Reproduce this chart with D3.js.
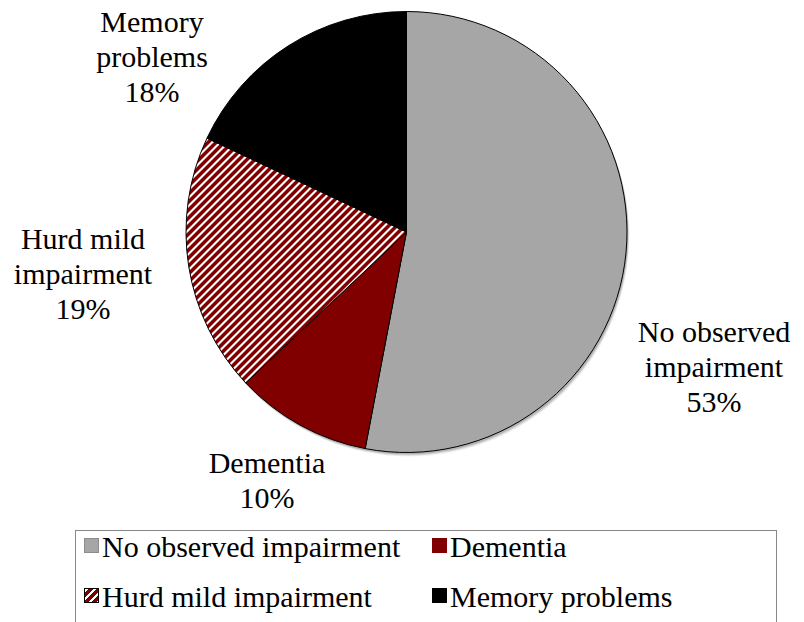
<!DOCTYPE html>
<html><head><meta charset="utf-8"><script src="https://cdn.jsdelivr.net/npm/d3@7"></script></head>
<body style="margin:0">
<svg id="s" width="804" height="622"></svg>
<script>
// Cognitive status shares (percent)
const categories = ["No observed impairment", "Dementia", "Hurd mild impairment", "Memory problems"];
const values = [53, 10, 19, 18];
const labelLines = [["No observed", "impairment"], ["Dementia"], ["Hurd mild", "impairment"], ["Memory", "problems"]];
const fills = ["#A6A6A6", "#800000", "url(#hatch)", "#000000"];

// Layout
const family = "Times New Roman";
const cx = 406.5, cy = 232, R = 220.5;
const labelSize = 30, legendSize = 30, lineH = 35;
// anchor (centre x, first baseline y) of each data label
const labelAnchors = [[714, 342], [267, 473], [83, 249], [152, 32]];

const svg = d3.select("#s").style("font-family", `"${family}"`);
const defs = svg.append("defs");

// wide upward diagonal hatch
const pat = defs.append("pattern")
  .attr("id", "hatch")
  .attr("patternUnits", "userSpaceOnUse")
  .attr("width", 8).attr("height", 8);
pat.append("rect").attr("width", 8).attr("height", 8).attr("fill", "#fff");
pat.append("path")
  .attr("d", "M-2,2 L2,-2 M0,8 L8,0 M6,10 L10,6")
  .attr("stroke", "#800000").attr("stroke-width", 3)
  .attr("shape-rendering", "crispEdges");

const pie = d3.pie().sort(null).value(d => d)(values);

// data labels
pie.forEach((d, i) => {
  const [ax, ay] = labelAnchors[i];
  const lines = labelLines[i].concat([`${values[i]}%`]);
  lines.forEach((ln, k) => {
    svg.append("text")
      .attr("x", ax).attr("y", ay + k * lineH)
      .style("font-family", `"${family}"`)
      .attr("font-size", labelSize)
      .attr("text-anchor", "middle")
      .text(ln);
  });
});

// pie with a soft offset shadow
const arc = d3.arc().innerRadius(0).outerRadius(R);
const g = svg.append("g").attr("transform", `translate(${cx},${cy})`);
[[4, 0.06], [3, 0.1], [2, 0.16]].forEach(([o, a]) => {
  g.append("circle")
    .attr("cx", o * 0.6).attr("cy", o)
    .attr("r", R)
    .attr("fill", "#000").attr("fill-opacity", a);
});
g.selectAll("path.slice")
  .data(pie)
  .join("path")
  .attr("class", "slice")
  .attr("d", arc)
  .attr("fill", (d, i) => fills[i])
  .attr("stroke", "#000")
  .attr("stroke-width", 1)
  .attr("stroke-linejoin", "round");

// legend
const legX = 75, legY = 530, legRight = 776;
svg.append("rect")
  .attr("x", legX + 0.5).attr("y", legY + 0.5)
  .attr("width", legRight - legX).attr("height", 110)
  .attr("fill", "#fff").attr("stroke", "#888").attr("stroke-width", 1);

const colX = [84, 432];
const rowY = [557, 607];
const sw = 14;
categories.forEach((c, i) => {
  const col = i % 2, row = Math.floor(i / 2);
  const x = colX[col], y = rowY[row];
  svg.append("rect")
    .attr("x", x + 0.5).attr("y", y - 18.5)
    .attr("width", sw).attr("height", sw)
    .attr("fill", fills[i])
    .attr("stroke", i === 2 ? "#000" : (i === 0 ? "#8c8c8c" : fills[i]))
    .attr("stroke-width", 1);
  svg.append("text")
    .attr("x", x + sw + 4).attr("y", y)
    .style("font-family", `"${family}"`)
    .attr("font-size", legendSize)
    .text(c);
});
</script>
</body>
</html>
